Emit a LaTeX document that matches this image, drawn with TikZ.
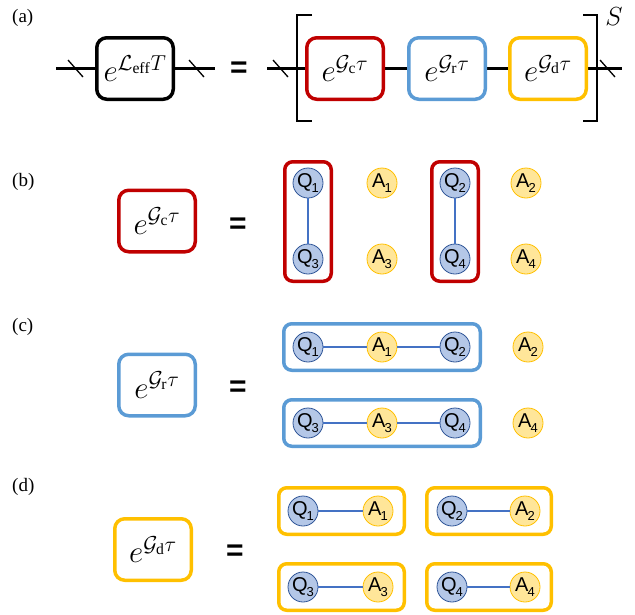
\documentclass[tikz,border=0pt]{standalone}
\usepackage{graphicx}
\usepackage{fontspec}
\setmainfont{Liberation Serif}
\newfontfamily\qfont{Liberation Sans}
\usetikzlibrary{positioning}
\definecolor{cred}{HTML}{C00000}
\definecolor{cblue}{HTML}{5B9BD5}
\definecolor{cyel}{HTML}{FFC000}
\definecolor{qfill}{HTML}{B4C7E7}
\definecolor{qdraw}{HTML}{2F5597}
\definecolor{afill}{HTML}{FFE699}
\definecolor{linkc}{HTML}{4472C4}
\newcommand\qlab[2]{{\qfont\fontsize{20}{20}\selectfont #1\kern-1pt\raisebox{-0.45ex}{\fontsize{13}{13}\selectfont #2}}}
\newcommand\expo[1]{\scalebox{1.25}{\fontsize{25}{28}\selectfont$e^{#1}$}}
\begin{document}
\begin{tikzpicture}[x=1pt,y=-1pt,
  gate/.style={draw=#1,line width=3.5pt,rounded corners=10pt,minimum width=76.5pt,minimum height=61.5pt,inner sep=0pt,fill=white},
  group/.style={draw=#1,line width=3.5pt,rounded corners=8pt,inner sep=0pt},
  qnode/.style={circle,draw=qdraw,fill=qfill,line width=0.8pt,minimum size=30pt,inner sep=0pt},
  anode/.style={circle,draw=cyel,fill=afill,line width=0.8pt,minimum size=30pt,inner sep=0pt},
  link/.style={draw=linkc,line width=1.3pt},
  wire/.style={line width=3.5pt},
  slash/.style={line width=1.3pt},
  eqs/.style={font=\qfont\bfseries\fontsize{30}{30}\selectfont,inner sep=0pt},
  plabel/.style={font=\fontsize{19}{22}\selectfont,inner sep=0pt,anchor=west}]
\useasboundingbox (0,0) rectangle (635,614);

% ---------- (a)
\node[plabel] (la) at (12,18) {(a)};
\coordinate (w1) at (56,68.5);
\coordinate (w2) at (215,68.5);
\coordinate (w3) at (267,68.5);
\coordinate (w4) at (622,68.5);
\draw[wire] (w1) -- (w2);
\draw[wire] (w3) -- (w4);
\node[gate=black] (Leff) at (135,68.5) {\expo{\mathcal{L}_{\mathrm{eff}}T}};
\node[gate=cred] (Ga) at (345,68.5) {\expo{\mathcal{G}_{\mathrm{c}}\tau}};
\node[gate=cblue] (Gb) at (447,68.5) {\expo{\mathcal{G}_{\mathrm{r}}\tau}};
\node[gate=cyel] (Gc) at (548,68.5) {\expo{\mathcal{G}_{\mathrm{d}}\tau}};
\draw[slash] (68,60) -- (83,77);
\draw[slash] (189,60) -- (204,77);
\draw[slash] (273,60) -- (288,77);
\draw[slash] (600,60) -- (615,77);
\node[eqs] (eqa) at (239,70) {=};
\draw[line width=1.5pt] (312,15) -- (297,15) -- (297,121) -- (312,121);
\draw[line width=1.5pt] (583,15) -- (597,15) -- (597,121) -- (583,121);
\node[inner sep=0pt] (S) at (614,17) {\scalebox{1.05}{\fontsize{24.88}{28}\selectfont$S$}};

% ---------- (b)
\node[plabel] (lb) at (12,182) {(b)};
\node[gate=cred] (Gcb) at (157,221) {\expo{\mathcal{G}_{\mathrm{c}}\tau}};
\node[eqs] (eqb) at (238,226) {=};
\node[group=cred,minimum width=46.5pt,minimum height=119.5pt] (rb1) at (308,221.5) {};
\node[group=cred,minimum width=46.5pt,minimum height=119.5pt] (rb2) at (455,221.5) {};
\node[qnode] (bq1) at (308,183) {\qlab{Q}{1}};
\node[qnode] (bq3) at (308,259) {\qlab{Q}{3}};
\node[qnode] (bq2) at (455,183) {\qlab{Q}{2}};
\node[qnode] (bq4) at (455,259) {\qlab{Q}{4}};
\node[anode] (ba1) at (382,183) {\qlab{A}{1}};
\node[anode] (ba3) at (382,259) {\qlab{A}{3}};
\node[anode] (ba2) at (526,183) {\qlab{A}{2}};
\node[anode] (ba4) at (526,259) {\qlab{A}{4}};
\draw[link] (bq1) -- (bq3);
\draw[link] (bq2) -- (bq4);

% ---------- (c)
\node[plabel] (lc) at (12,327) {(c)};
\node[gate=cblue] (Grc) at (157,385) {\expo{\mathcal{G}_{\mathrm{r}}\tau}};
\node[eqs] (eqc) at (238,389) {=};
\node[group=cblue,minimum width=196.5pt,minimum height=46.5pt] (rc1) at (382,347) {};
\node[group=cblue,minimum width=196.5pt,minimum height=46.5pt] (rc2) at (382,423) {};
\node[qnode] (cq1) at (308,347) {\qlab{Q}{1}};
\node[anode] (ca1) at (382,347) {\qlab{A}{1}};
\node[qnode] (cq2) at (455,347) {\qlab{Q}{2}};
\node[anode] (ca2) at (528,347) {\qlab{A}{2}};
\node[qnode] (cq3) at (308,423) {\qlab{Q}{3}};
\node[anode] (ca3) at (382,423) {\qlab{A}{3}};
\node[qnode] (cq4) at (455,423) {\qlab{Q}{4}};
\node[anode] (ca4) at (528,423) {\qlab{A}{4}};
\draw[link] (cq1) -- (ca1);
\draw[link] (ca1) -- (cq2);
\draw[link] (cq3) -- (ca3);
\draw[link] (ca3) -- (cq4);

% ---------- (d)
\node[plabel] (ld) at (12,487) {(d)};
\node[gate=cyel] (Gdd) at (153,549.5) {\expo{\mathcal{G}_{\mathrm{d}}\tau}};
\node[eqs] (eqd) at (235,553) {=};
\node[group=cyel,minimum width=125.5pt,minimum height=46.5pt] (rd1) at (341.5,511) {};
\node[group=cyel,minimum width=124.5pt,minimum height=46.5pt] (rd2) at (489,511) {};
\node[group=cyel,minimum width=125.5pt,minimum height=46.5pt] (rd3) at (341.5,587) {};
\node[group=cyel,minimum width=124.5pt,minimum height=46.5pt] (rd4) at (489,587) {};
\node[qnode] (dq1) at (303,511) {\qlab{Q}{1}};
\node[anode] (da1) at (378,511) {\qlab{A}{1}};
\node[qnode] (dq2) at (452,511) {\qlab{Q}{2}};
\node[anode] (da2) at (525,511) {\qlab{A}{2}};
\node[qnode] (dq3) at (303,587) {\qlab{Q}{3}};
\node[anode] (da3) at (378,587) {\qlab{A}{3}};
\node[qnode] (dq4) at (452,587) {\qlab{Q}{4}};
\node[anode] (da4) at (525,587) {\qlab{A}{4}};
\draw[link] (dq1) -- (da1);
\draw[link] (dq2) -- (da2);
\draw[link] (dq3) -- (da3);
\draw[link] (dq4) -- (da4);
\end{tikzpicture}
\end{document}
